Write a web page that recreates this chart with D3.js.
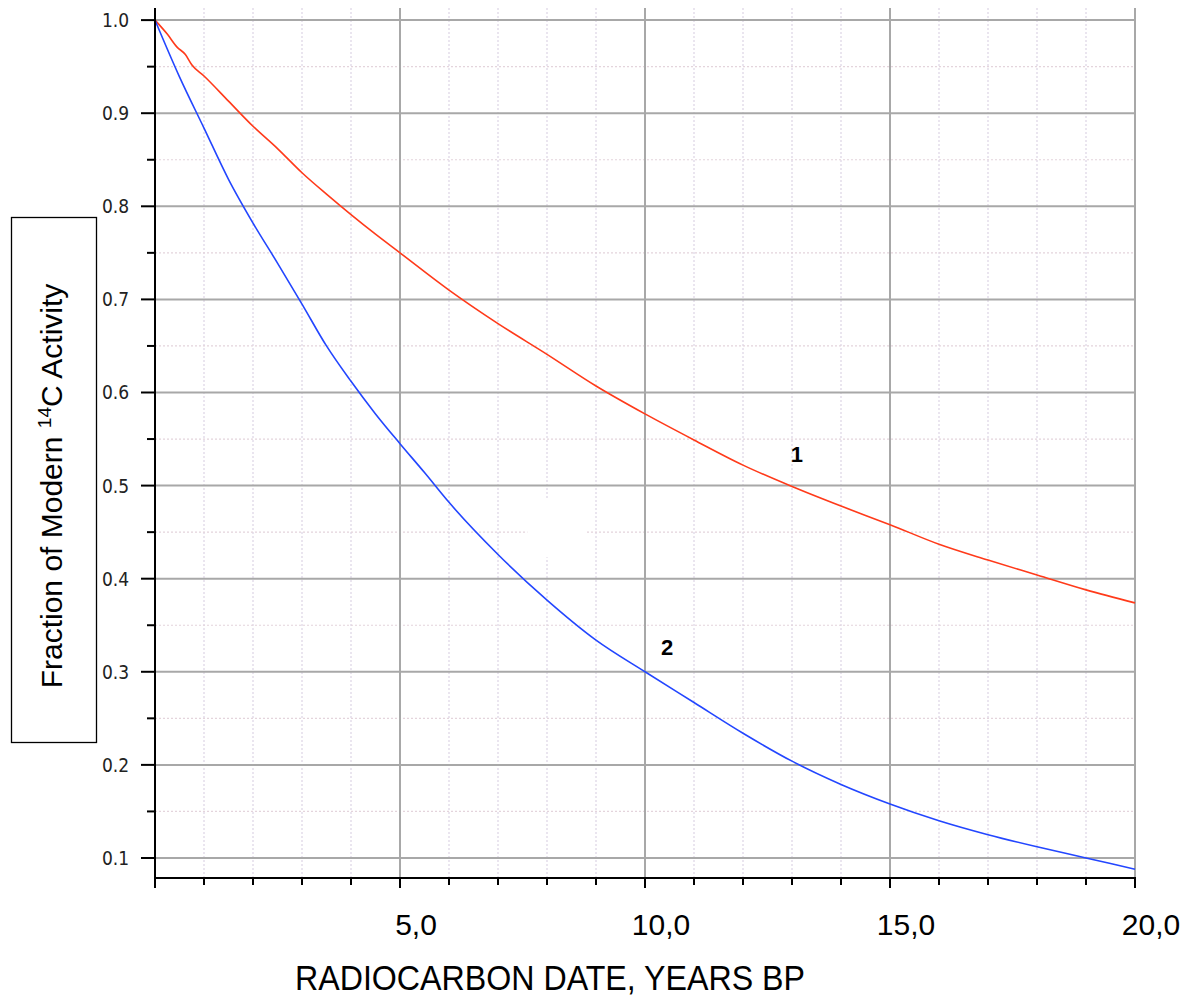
<!DOCTYPE html>
<html><head><meta charset="utf-8">
<script src="https://cdn.jsdelivr.net/npm/d3@7/dist/d3.min.js"></script>
<style>
html,body{margin:0;padding:0;background:#fff;}
svg{display:block;}
</style></head>
<body>
<script>
// ---- data ----
const curve1X = [0,0.25,0.45,0.62,0.75,1,1.5,2,2.5,3,3.5,4,4.5,5,6,7,8,9,10,11,12,13,14,15,16,17,18,19,20];
const curve1Y = [1.0,0.985,0.971,0.963,0.952,0.94,0.913,0.886,0.862,0.836,0.813,0.791,0.77,0.75,0.71,0.674,0.641,0.607,0.577,0.549,0.522,0.499,0.478,0.458,0.437,0.42,0.404,0.388,0.374];
const curve2X = [0,0.5,1,1.5,2,2.5,3,3.5,4,4.5,5,5.5,6,7,8,9,10,11,12,13,14,15,16,17,18,19,20];
const curve2Y = [1.0,0.939,0.884,0.829,0.782,0.739,0.695,0.65,0.612,0.577,0.545,0.514,0.482,0.426,0.377,0.334,0.30,0.267,0.234,0.204,0.179,0.158,0.14,0.125,0.112,0.10,0.088];
const xTickValues = [5,10,15,20];
const xTickLabels = ["5,0","10,0","15,0","20,0"];
const yTickValues = [0.1,0.2,0.3,0.4,0.5,0.6,0.7,0.8,0.9,1.0];
const yTickLabels = ["0.1","0.2","0.3","0.4","0.5","0.6","0.7","0.8","0.9","1.0"];
const seriesLabels = ["1","2"];
const seriesLabelPos = [[13.1,0.5255],[10.45,0.318]];
const xTitle = "RADIOCARBON DATE, YEARS BP";

const W = 1185, H = 996;
const svg = d3.select("body").append("svg").attr("width", W).attr("height", H);

const x = d3.scaleLinear().domain([0,20]).range([155,1135]);
const y = d3.scaleLinear().domain([0.0785,1.013]).range([878,8]);

const xMinor = d3.range(1,20).filter(v => v % 5 !== 0);
const yMinor = d3.range(0.15,1.0,0.1).map(v => +v.toFixed(2));

// minor grid (dotted)
const g = svg.append("g");
g.selectAll(".vmin").data(xMinor).join("line")
  .attr("x1", d => x(d)).attr("x2", d => x(d)).attr("y1", y.range()[1]).attr("y2", y.range()[0])
  .attr("stroke", "#dcd4e4").attr("stroke-width", 1.2).attr("stroke-dasharray", "2,2");
g.selectAll(".hmin").data(yMinor).join("line")
  .attr("x1", x(0)).attr("x2", x(20)).attr("y1", d => y(d)).attr("y2", d => y(d))
  .attr("stroke", "#e4d4dc").attr("stroke-width", 1.2).attr("stroke-dasharray", "2,2");
// white patch
g.append("rect").attr("x", x(7.6)).attr("y", y(0.485)).attr("width", x(8.78)-x(7.6)).attr("height", y(0.423)-y(0.485)).attr("fill", "#fff");

// major grid
g.selectAll(".vmaj").data(xTickValues).join("line")
  .attr("x1", d => x(d)).attr("x2", d => x(d)).attr("y1", y.range()[1]).attr("y2", y.range()[0])
  .attr("stroke", "#a8a8a8").attr("stroke-width", 2);
g.selectAll(".hmaj").data(yTickValues).join("line")
  .attr("x1", x(0)).attr("x2", x(20)).attr("y1", d => y(d)).attr("y2", d => y(d))
  .attr("stroke", "#a8a8a8").attr("stroke-width", 2);

// curves
const line = d3.line().x(d => x(d[0])).y(d => y(d[1])).curve(d3.curveMonotoneX);
svg.append("path").datum(curve1X.map((v,i) => [v, curve1Y[i]]))
  .attr("d", line).attr("fill", "none").attr("stroke", "#ff3a1a").attr("stroke-width", 1.6);
svg.append("path").datum(curve2X.map((v,i) => [v, curve2Y[i]]))
  .attr("d", line).attr("fill", "none").attr("stroke", "#2346ff").attr("stroke-width", 1.6);

// axes
const yAxis = svg.append("g");
yAxis.append("line").attr("x1", x(0)).attr("x2", x(0)).attr("y1", y.range()[1]).attr("y2", y.range()[0])
  .attr("stroke", "#000").attr("stroke-width", 2);
yAxis.selectAll(".yt").data(yTickValues).join("line")
  .attr("x1", x(0) - 14).attr("x2", x(0)).attr("y1", d => y(d)).attr("y2", d => y(d))
  .attr("stroke", "#000").attr("stroke-width", 2);
yAxis.selectAll(".ytm").data(yMinor).join("line")
  .attr("x1", x(0) - 8).attr("x2", x(0)).attr("y1", d => y(d)).attr("y2", d => y(d))
  .attr("stroke", "#000").attr("stroke-width", 2);
yAxis.selectAll(".yl").data(yTickValues).join("text")
  .attr("x", 102).attr("y", d => y(d) + 7)
  .attr("text-anchor", "start").attr("font-family", "DejaVu Sans Condensed, DejaVu Sans").attr("font-stretch", "condensed")
  .attr("font-size", 19).attr("fill", "#222").text((d,i) => yTickLabels[i]);

const xAxis = svg.append("g");
xAxis.append("line").attr("x1", x(0) - 1).attr("x2", x(20) + 1).attr("y1", y.range()[0]).attr("y2", y.range()[0])
  .attr("stroke", "#000").attr("stroke-width", 2);
xAxis.selectAll(".xtm").data(xMinor).join("line")
  .attr("x1", d => x(d)).attr("x2", d => x(d)).attr("y1", y.range()[0]).attr("y2", y.range()[0] + 7)
  .attr("stroke", "#000").attr("stroke-width", 2);
xAxis.selectAll(".xt").data([0].concat(xTickValues)).join("line")
  .attr("x1", d => x(d)).attr("x2", d => x(d)).attr("y1", y.range()[0]).attr("y2", y.range()[0] + 10)
  .attr("stroke", "#000").attr("stroke-width", 2);
xAxis.selectAll(".xl").data(xTickValues).join("text")
  .attr("x", d => x(d) + 16).attr("y", 935)
  .attr("text-anchor", "middle").attr("font-family", "Liberation Sans, Arial, sans-serif").attr("font-size", 30)
  .attr("fill", "#000").text((d,i) => xTickLabels[i]);

svg.append("text").attr("x", 295).attr("y", 990).attr("text-anchor", "start")
  .attr("font-family", "Liberation Sans, Arial, sans-serif").attr("font-size", 35).attr("fill", "#000")
  .attr("textLength", 510).attr("lengthAdjust", "spacingAndGlyphs")
  .text(xTitle);

// y title box
svg.append("rect").attr("x", 11.5).attr("y", 217.5).attr("width", 85).attr("height", 525)
  .attr("fill", "#fff").attr("stroke", "#000").attr("stroke-width", 1.3);
const yt = svg.append("text").attr("transform", "translate(62,486) rotate(-90)")
  .attr("text-anchor", "start").attr("font-family", "Liberation Sans, Arial, sans-serif")
  .attr("font-size", 30).attr("fill", "#000");
yt.append("tspan").text("Fraction of Modern ");
yt.append("tspan").attr("font-size", 19).attr("dy", -11).text("14");
yt.append("tspan").attr("dy", 11).text("C Activity");
const ytLen = yt.node().getComputedTextLength();
yt.attr("x", -ytLen / 2);

// series labels
svg.selectAll(".sl").data(seriesLabels).join("text")
  .attr("x", (d,i) => x(seriesLabelPos[i][0])).attr("y", (d,i) => y(seriesLabelPos[i][1]))
  .attr("text-anchor", "middle").attr("font-family", "Liberation Sans, Arial, sans-serif")
  .attr("font-weight", "bold").attr("font-size", 22).attr("fill", "#000").text(d => d);
</script>
</body></html>
